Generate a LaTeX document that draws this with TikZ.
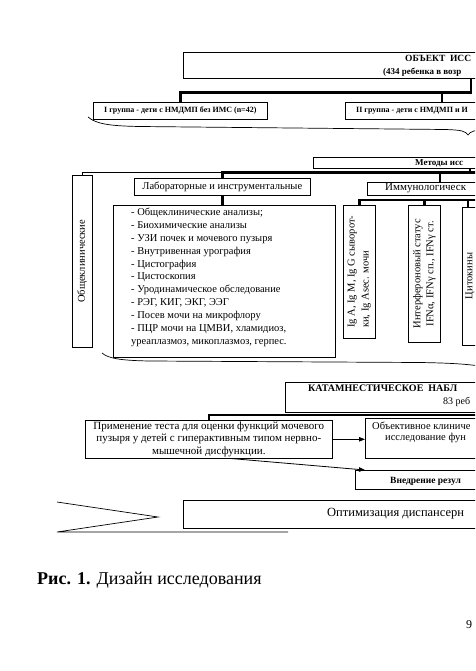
\documentclass[tikz,border=0pt]{standalone}
\usepackage{fontspec}
\setmainfont{Liberation Serif}
\usetikzlibrary{arrows.meta,calc}
\newcommand{\fsz}[1]{\fontsize{#1}{#1}\selectfont}
\begin{document}
\begin{tikzpicture}[x=1pt,y=-1pt,
  box/.style={draw, line width=0.6pt, fill=white, inner sep=0pt, anchor=north west},
  conn/.style={line width=2.4pt},
  thinconn/.style={line width=1.1pt},
  arr/.style={line width=0.8pt, -{Triangle[length=6pt,width=4.5pt]}},
  lbl/.style={inner sep=0pt, anchor=west},
  rot/.style={inner sep=0pt, rotate=90}]
\useasboundingbox (0,0) rectangle (475,671);
\clip (0,0) rectangle (475,671);

% object box
\node[box, minimum width=320pt, minimum height=26pt] (obj) at (183,52) {};
\node[lbl, font=\bfseries\fsz{9.5}] (objt1) at (405,58.5) {ОБЪЕКТ\ \ ИСС};
\node[lbl, font=\bfseries\fsz{9}] (objt2) at (383,72) {(434 ребенка в возр};

% groups
\node[box, minimum width=174pt, minimum height=17pt] (gI) at (93,102) {};
\node[font=\bfseries\fsz{8}, inner sep=0pt] (gIt) at (gI.center) {I группа - дети с НМДМП без ИМС (n=42)};
\node[box, minimum width=200pt, minimum height=17pt] (gII) at (345,102) {};
\node[lbl, font=\bfseries\fsz{8}] (gIIt) at (356,110.5) {II группа - дети с НМДМП и И};
\draw[conn] ([xshift=288pt]obj.south west) -- ++(0,14) -| (gI.north);
\draw[conn] ([xshift=97pt]gII.north west) -- ++(0,-10);

% brace
\draw[line width=0.7pt] (88,117) .. controls (96,124) and (110,126) .. (140,126.5)
  -- (445,129.5) .. controls (462,130) and (465,131) .. (468,135)
  .. controls (471,131) and (474,130) .. (490,129.5);

% methods
\node[box, minimum width=200pt, minimum height=11pt] (meth) at (313,157) {};
\node[lbl, font=\bfseries\fsz{9}] (metht) at (415,163) {Методы исс};
\coordinate (mR) at (490,172.5);

% general clinical
\node[box, minimum width=20pt, minimum height=172pt] (gen) at (72,175) {};
\node[rot, font=\fsz{10.5}] (gent) at (gen.center) {Общеклинические};

% lab
\node[box, minimum width=176pt, minimum height=17pt] (lab) at (134,178) {};
\node[font=\fsz{10.5}, inner sep=0pt] (labt) at (lab.center) {Лабораторные и инструментальные};
\draw[thinconn] (gen.north) |- (lab.north |- mR);
\draw[conn] (lab.north) |- (mR);
\draw[conn] ([xshift=157pt]meth.south west) -- ++(0,4.5);

% list
\node[box, minimum width=222pt, minimum height=152pt] (list) at (113,205) {};
\draw[conn] (lab.south) -- (lab.south |- list.north);
\node[inner sep=0pt, anchor=north west, align=left, font=\fontsize{10.5}{12.95}\selectfont] (listt) at (131,207.5) {%
- Общеклинические анализы;\\
- Биохимические анализы\\
- УЗИ почек и мочевого пузыря\\
- Внутривенная урография\\
- Цистография\\
- Цистоскопия\\
- Уродинамическое обследование\\
- РЭГ, КИГ, ЭКГ, ЭЭГ\\
- Посев мочи на микрофлору\\
- ПЦР мочи на ЦМВИ, хламидиоз,\\
уреаплазмоз, микоплазмоз, герпес.};

% brace 2
\draw[line width=0.7pt] (102,353) .. controls (108,358) and (118,360.5) .. (150,361)
  -- (420,362.5) .. controls (450,363) and (465,364) .. (480,366);

% immunological
\node[box, minimum width=150pt, minimum height=13pt] (imm) at (367,182) {};
\node[lbl, font=\fsz{11}] (immt) at (385,188.5) {Иммунологическ};
\draw[conn] ([xshift=73pt]imm.north west) -- ++(0,-10);

\node[box, minimum width=32pt, minimum height=133pt] (bA) at (343,205) {};
\node[rot, align=left, font=\fontsize{10.5}{14}\selectfont] (bAt) at (bA.center) {Ig A, Ig M, Ig G сыворот-\\ки, Ig Asec. мочи};
\node[box, minimum width=32pt, minimum height=137pt] (bB) at (408,205) {};
\node[rot, align=center, font=\fontsize{10.5}{13}\selectfont] (bBt) at (bB.center) {Интерфероновый статус\\IFNα, IFNγ сп., IFNγ ст.};
\node[box, minimum width=40pt, minimum height=138pt] (bC) at (462,207) {};
\node[rot, font=\fsz{10.5}] (bCt) at (470,276) {Цитокины};
\coordinate (iR) at (490,200);
\draw[conn] (bA.north) |- (iR);
\draw[conn] (bB.north) -- (bB.north |- iR);
\draw[conn] ([xshift=6pt]bC.north west) -- ([xshift=6pt]bC.north west |- iR);

% katamnestic
\node[box, minimum width=200pt, minimum height=30pt] (kat) at (285,382) {};
\node[lbl, font=\bfseries\fsz{10}] (katt1) at (308,388.5) {КАТАМНЕСТИЧЕСКОЕ\ \ НАБЛ};
\node[lbl, font=\fsz{10}] (katt2) at (443,402) {83 реб};

\node[box, minimum width=247pt, minimum height=38pt] (appl) at (85,420) {};
\node[font=\fontsize{11}{12.5}\selectfont, align=center, inner sep=0pt] (applt) at (appl.center) {Применение теста для оценки функций мочевого\\пузыря у детей с гиперактивным типом нервно-\\мышечной дисфункции.};
\coordinate (kR) at (490,415);
\draw[conn] (appl.north) |- (kR);

\node[box, minimum width=150pt, minimum height=40pt] (obj2) at (365,418) {};
\node[lbl, font=\fsz{10.5}] (obj2t1) at (372,425.5) {Объективное клиниче};
\node[lbl, font=\fsz{10.5}] (obj2t2) at (385,437.5) {исследование фун};
\draw[arr] (appl.east) -- (obj2.west |- appl.east);

\node[box, minimum width=150pt, minimum height=19pt] (vned) at (355,470) {};
\node[lbl, font=\bfseries\fsz{9.5}] (vnedt) at (390,481) {Внедрение резул};
\draw[arr] ([xshift=147pt]appl.south west) -- ([xshift=10pt]vned.north west);

% optimisation
\draw[line width=0.7pt] (57,502) -- (158,517) -- (57,532) -- (288,532);
\node[box, minimum width=320pt, minimum height=28pt] (opt) at (183,500) {};
\node[lbl, font=\fsz{12.5}] (optt) at (327,514) {Оптимизация диспансерн};

% caption
\node[lbl, font=\fsz{18}] (cap) at (37,580) {\textbf{Рис. 1.} Дизайн исследования};
\node[lbl, font=\fsz{12}] (pg) at (466,625) {9};
\end{tikzpicture}
\end{document}
